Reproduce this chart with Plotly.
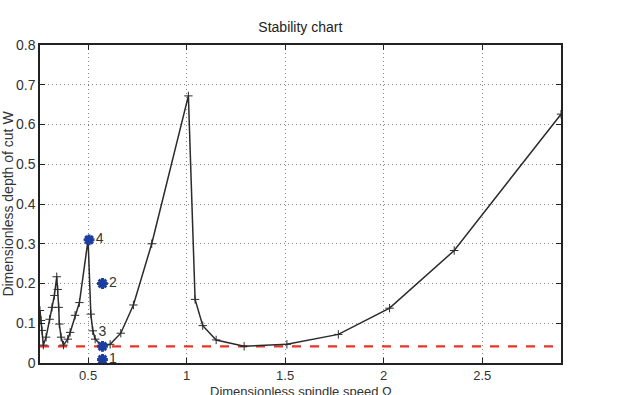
import plotly.graph_objects as go

# Stability lobe boundary (dimensionless spindle speed vs depth of cut)
omega = [0.256, 0.261, 0.266, 0.273, 0.287, 0.305, 0.317, 0.329, 0.341,
         0.346, 0.351, 0.354, 0.363, 0.375, 0.397, 0.409, 0.434, 0.456, 0.500,
         0.514, 0.524, 0.536, 0.572, 0.612, 0.666, 0.730, 0.823, 1.009,
         1.043, 1.082, 1.150, 1.292, 1.509, 1.770, 2.030, 2.358, 2.900]
depth = [0.132, 0.107, 0.082, 0.045, 0.065, 0.110, 0.140, 0.170, 0.217,
         0.185, 0.140, 0.098, 0.065, 0.045, 0.060, 0.077, 0.120, 0.152, 0.310,
         0.123, 0.081, 0.060, 0.042, 0.047, 0.075, 0.146, 0.300, 0.672,
         0.160, 0.094, 0.058, 0.042, 0.047, 0.072, 0.138, 0.283, 0.626]

# Test points
pt_omega = [0.573, 0.573, 0.573, 0.505]
pt_depth = [0.009, 0.200, 0.042, 0.310]
pt_labels = ["1", "2", "3", "4"]
pt_textpos = ["middle right", "middle right", "top center", "middle right"]

# Absolute stability limit
limit = 0.042
x_range = [0.256, 2.9]

x_ticks = [0.5, 1, 1.5, 2, 2.5]
x_ticktext = ["0.5", "1", "1.5", "2", "2.5"]
y_ticks = [0, 0.1, 0.2, 0.3, 0.4, 0.5, 0.6, 0.7, 0.8]
y_ticktext = ["0", "0.1", "0.2", "0.3", "0.4", "0.5", "0.6", "0.7", "0.8"]

FONT = "Liberation Sans, Arial, sans-serif"

fig = go.Figure()

fig.add_trace(go.Scatter(
    x=x_range, y=[limit, limit], mode="lines",
    line=dict(color="#e8352b", width=2.2, dash="dash"),
    showlegend=False, hoverinfo="skip"))

fig.add_trace(go.Scatter(
    x=omega, y=depth, mode="lines+markers",
    line=dict(color="#2b2b2b", width=1.5),
    marker=dict(symbol="cross-thin", size=6, line=dict(color="#2b2b2b", width=1)),
    showlegend=False))

fig.add_trace(go.Scatter(
    x=pt_omega, y=pt_depth, mode="markers+text",
    text=pt_labels, textposition=pt_textpos,
    textfont=dict(family=FONT, size=14, color="#333333"),
    marker=dict(symbol="asterisk-open", size=9, color="#1c3da0",
                line=dict(color="#1c3da0", width=3)),
    showlegend=False, cliponaxis=False))

axis_common = dict(
    showline=True, linecolor="#222222", linewidth=1.5, mirror="ticks",
    ticks="inside", ticklen=5, tickcolor="#222222",
    showgrid=True, gridcolor="#888888", griddash="1px,3px", gridwidth=1,
    zeroline=False,
    tickfont=dict(family=FONT, size=14, color="#333333"),
)

fig.update_xaxes(range=x_range, tickvals=x_ticks, ticktext=x_ticktext,
                 automargin=False, **axis_common)
fig.update_xaxes(tickfont=dict(size=13))
fig.update_yaxes(range=[0, 0.8], tickvals=y_ticks, ticktext=y_ticktext,
                 title=dict(text="Dimensionless depth of cut W",
                            font=dict(family=FONT, size=14, color="#333333")),
                 automargin=False, **axis_common)

plot_bottom = 363
plot_h = plot_bottom - 45
fig.add_annotation(
    text="Dimensionless spindle speed Ω", xref="paper", yref="paper",
    x=0.5, y=-(391 - plot_bottom) / plot_h, xanchor="center", yanchor="middle",
    showarrow=False, font=dict(family=FONT, size=13, color="#333333"))

fig.update_layout(
    width=631, height=395,
    margin=dict(l=40, r=70, t=45, b=395 - plot_bottom),
    paper_bgcolor="white", plot_bgcolor="white",
    title=dict(text="Stability chart", x=0.476, xanchor="center",
               y=1 - 27 / 395, yanchor="middle",
               font=dict(family=FONT, size=14, color="#222222")),
)

fig.write_html("out.html")
